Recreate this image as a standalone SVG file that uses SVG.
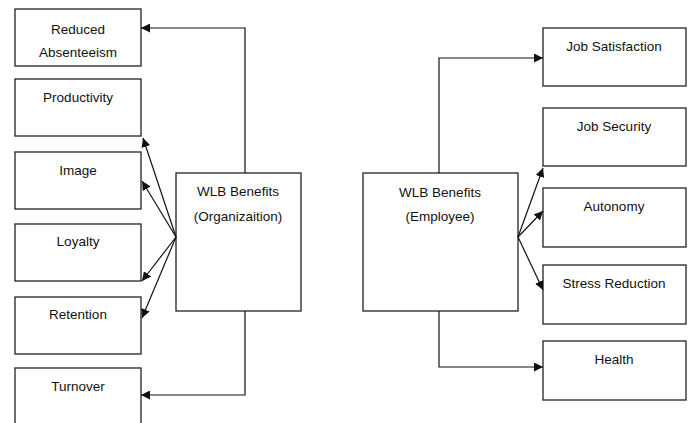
<svg xmlns="http://www.w3.org/2000/svg" width="690" height="423" viewBox="0 0 690 423">
<style>
.box{fill:#fff;stroke:#222;stroke-width:1.3}
.t{font-family:"Liberation Sans",Arial,sans-serif;font-size:13.5px;fill:#111;text-anchor:middle}
.c{fill:none;stroke:#111;stroke-width:1.2}
</style>
<defs>
<marker id="ah" viewBox="0 0 10 10" refX="10" refY="5" markerWidth="9" markerHeight="9" markerUnits="userSpaceOnUse" orient="auto">
<path d="M0,0 L10,5 L0,10 z" fill="#111"/>
</marker>
</defs>
<rect width="690" height="423" fill="#fff"/>
<g id="n-absenteeism"><rect class="box" x="15" y="9" width="126" height="57"/><text class="t" x="78" y="34">Reduced</text><text class="t" x="78" y="57">Absenteeism</text></g>
<g id="n-productivity"><rect class="box" x="15" y="79" width="126" height="57"/><text class="t" x="78" y="102">Productivity</text></g>
<g id="n-image"><rect class="box" x="15" y="152" width="126" height="57"/><text class="t" x="78" y="175">Image</text></g>
<g id="n-loyalty"><rect class="box" x="15" y="224" width="126" height="57"/><text class="t" x="78" y="246">Loyalty</text></g>
<g id="n-retention"><rect class="box" x="15" y="297" width="126" height="57"/><text class="t" x="78" y="319">Retention</text></g>
<g id="n-turnover"><rect class="box" x="15" y="368" width="126" height="60"/><text class="t" x="78" y="391">Turnover</text></g>
<g id="n-org"><rect class="box" x="176" y="173" width="125" height="138"/><text class="t" x="238" y="196">WLB Benefits</text><text class="t" x="238" y="221">(Organizaition)</text></g>
<g id="n-emp"><rect class="box" x="363" y="173" width="155" height="138"/><text class="t" x="440" y="197">WLB Benefits</text><text class="t" x="440" y="221">(Employee)</text></g>
<g id="n-jobsat"><rect class="box" x="543" y="28" width="143" height="58"/><text class="t" x="614" y="51">Job Satisfaction</text></g>
<g id="n-jobsec"><rect class="box" x="543" y="108" width="143" height="58"/><text class="t" x="614" y="131">Job Security</text></g>
<g id="n-autonomy"><rect class="box" x="543" y="188" width="143" height="59"/><text class="t" x="614" y="211">Autonomy</text></g>
<g id="n-stress"><rect class="box" x="543" y="265" width="143" height="59"/><text class="t" x="614" y="288">Stress Reduction</text></g>
<g id="n-health"><rect class="box" x="543" y="341" width="143" height="59"/><text class="t" x="614" y="364">Health</text></g>
<g id="connectors">
<path class="c" d="M245,173 V28 H141" marker-end="url(#ah)"/>
<path class="c" d="M245,311 V395 H141" marker-end="url(#ah)"/>
<path class="c" d="M176,237 L143,138" marker-end="url(#ah)"/>
<path class="c" d="M176,237 L142,181" marker-end="url(#ah)"/>
<path class="c" d="M176,237 L142,281" marker-end="url(#ah)"/>
<path class="c" d="M176,237 L142,318" marker-end="url(#ah)"/>
<path class="c" d="M439,173 V58 H543" marker-end="url(#ah)"/>
<path class="c" d="M439,311 V367 H543" marker-end="url(#ah)"/>
<path class="c" d="M518,237 L543,168" marker-end="url(#ah)"/>
<path class="c" d="M518,237 L543,211" marker-end="url(#ah)"/>
<path class="c" d="M518,237 L543,290" marker-end="url(#ah)"/>
</g>
</svg>
